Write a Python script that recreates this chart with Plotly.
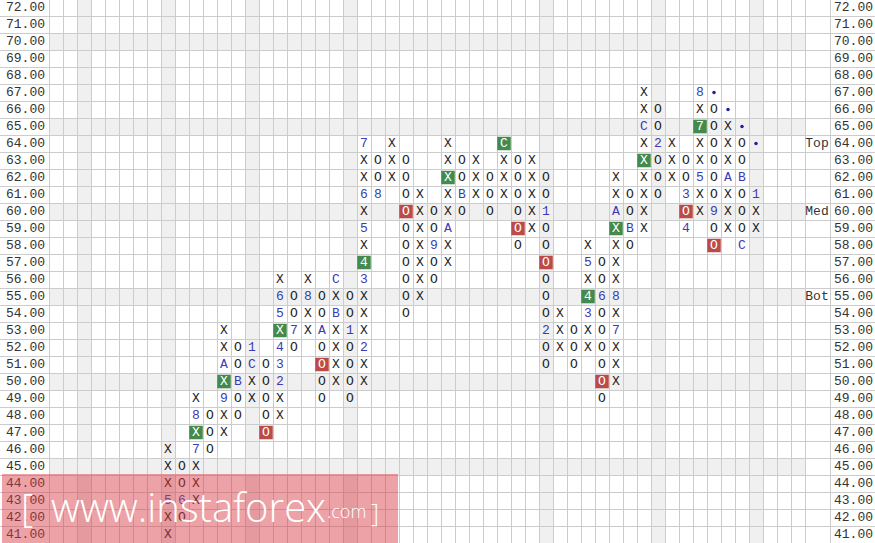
import plotly.graph_objects as go

# ---------------- data ----------------
prices = list(range(41, 73))                      # box prices 41.00 .. 72.00
col_index = list(range(8, 51))                    # columns that carry marks
col_type = ["X", "O"] * 21 + ["X"]                # alternating X / O columns
col_low = [41, 42, 43, 46, 47, 48, 49, 47, 48, 52, 53, 49, 50, 49, 50, 61, 62, 54,
           55, 56, 57, 60, 61, 60, 61, 58, 59, 51, 52, 51, 52, 49, 50, 58, 59, 61,
           62, 59, 60, 58, 59, 58, 59]
col_high = [46, 45, 49, 48, 53, 52, 52, 51, 56, 55, 56, 55, 56, 55, 64, 63, 64, 63,
            61, 60, 64, 63, 63, 62, 64, 63, 63, 62, 54, 53, 58, 57, 62, 61, 67, 66,
            64, 63, 67, 66, 65, 64, 61]

# month markers (1..9, A, B, C) replacing a box
month_col = [8, 9, 10, 10, 12, 12, 13, 14, 14, 16, 16, 16, 16, 16, 17, 18, 19, 20, 20,
             21, 22, 22, 22, 22, 22, 22, 23, 27, 28, 29, 32, 35, 35, 38, 38, 38, 39,
             40, 40, 40, 41, 42, 43, 45, 45, 46, 46, 46, 47, 48, 49, 49, 50]
month_price = [43, 43, 46, 48, 49, 51, 50, 51, 52, 50, 51, 52, 54, 55, 53, 55, 53, 54, 56,
               53, 52, 56, 57, 59, 61, 64, 61, 58, 59, 61, 64, 60, 53, 54, 55, 57, 55,
               53, 55, 60, 59, 65, 64, 61, 59, 62, 65, 67, 60, 62, 62, 58, 61]
month_label = ["5", "6", "7", "8", "9", "A", "B", "C", "1", "2", "3", "4", "5", "6", "7",
               "8", "A", "B", "C", "1", "2", "3", "4", "5", "6", "7", "8", "9", "A", "B",
               "C", "1", "2", "3", "4", "5", "6", "7", "8", "A", "B", "C", "2", "3", "4",
               "5", "7", "8", "9", "A", "B", "C", "1"]

# buy (green) and sell (red) signal boxes
buy_col = [10, 12, 16, 22, 28, 32, 38, 40, 42, 46]
buy_price = [47, 50, 53, 57, 62, 64, 55, 59, 63, 65]
sell_col = [15, 19, 25, 33, 35, 39, 45, 47]
sell_price = [47, 51, 60, 59, 57, 50, 60, 58]

# dotted trend line
dot_col = [47, 48, 49, 50]
dot_price = [67, 66, 65, 64]

# right-hand zone labels
zone_label = ["Top", "Med", "Bot"]
zone_price = [64, 60, 55]

shaded_cols = [2, 8, 14, 21, 35, 43, 50]
shaded_rows = [70, 65, 60, 55, 50, 45]

# ---------------- build cells ----------------
month_map = {(c, p): l for c, p, l in zip(month_col, month_price, month_label)}
signal_set = set(zip(buy_col, buy_price)) | set(zip(sell_col, sell_price))

xo_x, xo_y, xo_t = [], [], []
mo_x, mo_y, mo_t = [], [], []
sg_x, sg_y, sg_t = [], [], []
for c, t, lo, hi in zip(col_index, col_type, col_low, col_high):
    for p in range(lo, hi + 1):
        lab = month_map.get((c, p), t)
        if (c, p) in signal_set:
            sg_x.append(c); sg_y.append(p); sg_t.append(lab)
        elif (c, p) in month_map:
            mo_x.append(c); mo_y.append(p); mo_t.append(lab)
        else:
            xo_x.append(c); xo_y.append(p); xo_t.append(lab)

# ---------------- geometry (px -> data) ----------------
W, H = 875, 543
COLW, ROWH = 14, 17
XMIN = -4.0                      # pixel 0
XMAX = XMIN + W / COLW
YMIN = 40.5                      # pixel 543
YMAX = YMIN + H / ROWH


def px_x(px):
    return XMIN + px / COLW


MONO = "Liberation Mono, Courier New, monospace"
WM_FONT = "Open Sans, Noto Sans, sans-serif"

fig = go.Figure()

# signal boxes
fig.add_trace(go.Scatter(x=buy_col, y=buy_price, mode="markers", hoverinfo="skip",
                         marker=dict(symbol="square", size=13.5, color="#438a4c",
                                     line=dict(width=0)), showlegend=False))
fig.add_trace(go.Scatter(x=sell_col, y=sell_price, mode="markers", hoverinfo="skip",
                         marker=dict(symbol="square", size=13.5, color="#bb4b47",
                                     line=dict(width=0)), showlegend=False))
# X / O boxes
fig.add_trace(go.Scatter(x=xo_x, y=xo_y, text=xo_t, mode="text", hoverinfo="skip",
                         textfont=dict(family=MONO, size=13, color="#1e1e1e"),
                         showlegend=False))
# month markers
fig.add_trace(go.Scatter(x=mo_x, y=mo_y, text=mo_t, mode="text", hoverinfo="skip",
                         textfont=dict(family=MONO, size=13, color="#3b3bb3"),
                         showlegend=False))
# text on signal boxes
fig.add_trace(go.Scatter(x=sg_x, y=sg_y, text=sg_t, mode="text", hoverinfo="skip",
                         textfont=dict(family=MONO, size=13, color="#ffffff"),
                         showlegend=False))
# trend dots
fig.add_trace(go.Scatter(x=dot_col, y=dot_price, mode="markers", hoverinfo="skip",
                         marker=dict(symbol="circle", size=3.5, color="#1f1f9a"),
                         showlegend=False))
# price labels left / right
lab_txt = ["%.2f" % p for p in prices]
fig.add_trace(go.Scatter(x=[px_x(25.5)] * len(prices), y=prices, text=lab_txt,
                         mode="text", hoverinfo="skip",
                         textfont=dict(family=MONO, size=13, color="#333333"),
                         showlegend=False))
fig.add_trace(go.Scatter(x=[px_x(853.5)] * len(prices), y=prices, text=lab_txt,
                         mode="text", hoverinfo="skip",
                         textfont=dict(family=MONO, size=13, color="#333333"),
                         showlegend=False))
fig.add_trace(go.Scatter(x=[px_x(817)] * len(zone_label), y=zone_price, text=zone_label,
                         mode="text", hoverinfo="skip",
                         textfont=dict(family=MONO, size=13, color="#333333"),
                         showlegend=False))

# shading bands
shapes = []
for r in shaded_rows:
    shapes.append(dict(type="rect", xref="x", yref="y", x0=-0.5, x1=53.5,
                       y0=r - 0.5, y1=r + 0.5, fillcolor="#f0f0f0",
                       line=dict(width=0), layer="below"))
for c in shaded_cols:
    shapes.append(dict(type="rect", xref="x", yref="y", x0=c - 0.5, x1=c + 0.5,
                       y0=YMIN, y1=YMAX, fillcolor="#f0f0f0",
                       line=dict(width=0), layer="below"))
# watermark
shapes.append(dict(type="rect", xref="paper", yref="paper",
                   x0=2 / W, x1=398 / W, y0=0, y1=1 - 474 / H,
                   fillcolor="rgba(215,60,70,0.48)", line=dict(width=0), layer="above"))

annotations = [
    dict(x=27 / W, y=1 - 507 / H, xref="paper", yref="paper", text="[",
         showarrow=False, xanchor="center", yanchor="middle",
         font=dict(family=WM_FONT, size=38, color="white", weight=300)),
    dict(x=49 / W, y=1 - 506 / H, xref="paper", yref="paper",
         text="www.instaforex",
         showarrow=False, xanchor="left", yanchor="middle",
         font=dict(family=WM_FONT, size=40, color="white", weight=300)),
    dict(x=325 / W, y=1 - 511 / H, xref="paper", yref="paper",
         text=".com",
         showarrow=False, xanchor="left", yanchor="middle",
         font=dict(family=WM_FONT, size=18, color="white", weight=300)),
    dict(x=375 / W, y=1 - 512 / H, xref="paper", yref="paper", text="]",
         showarrow=False, xanchor="center", yanchor="middle",
         font=dict(family=WM_FONT, size=25, color="white", weight=300)),
]

xgrid = [i - 0.5 for i in range(0, 55)] + [px_x(830)]
ygrid = [p + 0.5 for p in range(40, 72)]

fig.update_layout(
    width=W, height=H, margin=dict(l=0, r=0, t=0, b=0),
    paper_bgcolor="white", plot_bgcolor="white",
    shapes=shapes, annotations=annotations,
    xaxis=dict(range=[XMIN, XMAX], tickmode="array", tickvals=xgrid,
               showticklabels=False, ticks="", showgrid=True, gridcolor="#cccccc",
               gridwidth=1, zeroline=False, showline=False, fixedrange=True),
    yaxis=dict(range=[YMIN, YMAX], tickmode="array", tickvals=ygrid,
               showticklabels=False, ticks="", showgrid=True, gridcolor="#cccccc",
               gridwidth=1, zeroline=False, showline=False, fixedrange=True),
)

fig.write_html("out.html", config={"displayModeBar": False},
               post_script="document.body.style.margin='0';")
